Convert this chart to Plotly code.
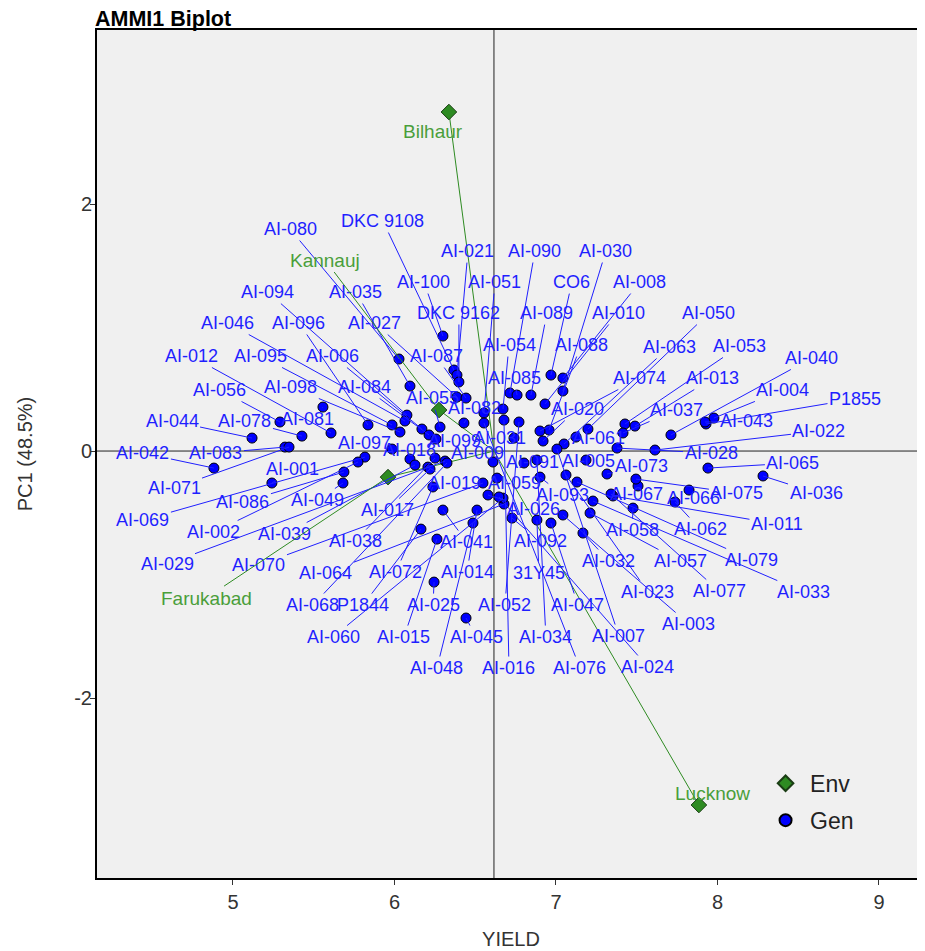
import plotly.graph_objects as go

# ---------------- data ----------------
gen_names = ["AI-080","DKC 9108","AI-100","AI-021","AI-090","AI-030","AI-051","CO6","AI-008","AI-094",
             "AI-035","DKC 9162","AI-089","AI-010","AI-050","AI-046","AI-096","AI-027","AI-054","AI-088",
             "AI-063","AI-053","AI-012","AI-095","AI-006","AI-087","AI-040","AI-085","AI-074","AI-013",
             "AI-056","AI-098","AI-084","AI-055","AI-004","P1855","AI-044","AI-078","AI-081","AI-082",
             "AI-020","AI-037","AI-043","AI-022","AI-097","AI-099","AI-031","AI-061","AI-042","AI-083",
             "AI-071","AI-018","AI-009","AI-091","AI-005","AI-028","AI-065","AI-001","AI-073","AI-086",
             "AI-049","AI-019","AI-059","AI-067","AI-066","AI-075","AI-036","AI-093","AI-069","AI-002",
             "AI-039","AI-017","AI-026","AI-058","AI-062","AI-011","AI-038","AI-041","AI-092","AI-029",
             "AI-070","AI-032","AI-057","AI-079","AI-064","AI-072","AI-014","31Y45","AI-023","AI-077",
             "AI-033","AI-068","P1844","AI-025","AI-052","AI-047","AI-003","AI-060","AI-015","AI-045",
             "AI-034","AI-007","AI-048","AI-016","AI-076","AI-024"]

gen_yield = [6.028,6.368,6.300,6.387,6.715,7.043,6.554,6.969,7.043,6.077,
             6.096,6.399,6.845,6.932,7.198,6.065,5.836,6.387,6.672,6.957,
             7.050,7.427,5.607,5.985,6.170,6.443,7.712,6.759,6.901,7.489,
             5.291,6.034,6.214,6.282,7.978,7.929,5.118,5.427,5.557,6.430,
             6.920,7.415,7.923,7.613,5.985,6.257,6.740,7.124,4.882,5.322,
             5.347,6.096,6.610,6.802,7.186,7.378,7.941,5.241,7.316,5.687,
             5.681,6.207,6.635,7.508,7.824,7.495,8.282,6.901,5.817,5.774,
             6.127,6.220,6.579,7.477,7.737,7.353,6.251,6.300,6.728,6.313,
             6.548,7.167,7.211,7.130,6.678,6.238,6.511,6.882,7.062,7.341,
             7.229,6.325,6.164,6.245,6.771,6.969,7.043,6.672,6.263,6.443,
             6.882,7.006,6.486,6.678,6.554,6.647]

gen_pc1 = [0.745,0.656,0.931,0.615,0.470,0.486,0.308,0.615,0.591,0.291,
           0.526,0.559,0.453,0.381,0.178,0.243,0.211,0.437,0.340,0.170,
           0.057,0.219,0.146,0.211,0.178,0.429,0.130,0.453,0.162,0.202,
           0.235,0.154,0.130,0.194,0.267,0.219,0.105,0.121,0.356,0.227,
           0.081,0.146,0.235,0.008,0.016,0.097,0.105,0.113,-0.138,0.032,
           0.032,-0.065,-0.089,-0.097,-0.073,0.024,-0.138,-0.259,-0.186,-0.170,
           -0.259,-0.130,-0.219,-0.283,-0.316,-0.227,-0.202,-0.211,-0.049,-0.089,
           -0.113,-0.146,-0.356,-0.462,-0.413,-0.364,-0.057,-0.478,-0.543,-0.081,
           -0.259,-0.664,-0.502,-0.251,-0.429,-0.291,-0.478,-0.559,-0.194,-0.348,
           -0.405,-0.097,-0.632,-1.061,0.235,-0.583,-0.518,-0.381,-0.713,-1.352,
           -0.073,0.016,-0.583,0.251,0.227,-0.372]

# label placement offsets (pixels, relative to the point)
label_dx = [-109,-71,-19,11,25,43,11,21,77,-139,
            -54,0,16,73,121,-177,-69,-82,6,32,
            105,115,-140,-132,-89,-30,141,-3,100,78,
            -60,-109,-65,-8,69,149,-80,-57,-15,11,
            34,53,41,164,-28,19,-14,22,-71,-69,
            -115,0,-15,8,2,94,85,21,34,-101,
            -25,27,17,-2,4,101,53,23,-222,-144,
            -130,-43,46,-1,25,164,-80,24,28,-278,
            -224,26,90,175,-178,-37,-10,2,82,108,
            211,-134,-58,-1,-14,27,126,-170,-33,10,
            9,62,-36,5,96,149]
label_dy = [-130,-149,-54,-124,-142,-140,-131,-93,-96,-123,
            -94,-69,-82,-91,-116,-98,-102,-74,-64,-85,
            -97,-78,-77,-69,-73,-42,-77,-17,-53,-48,
            -32,-45,-48,-29,-28,-25,-17,-15,12,-15,
            -32,-23,-1,-19,-6,2,0,1,-15,6,
            41,-9,-9,-1,1,5,-5,-14,-8,30,
            17,16,5,8,8,14,17,18,63,70,
            69,41,14,22,27,28,83,32,23,103,
            82,28,48,78,69,85,62,53,117,97,
            91,142,76,23,183,82,109,139,98,19,
            177,187,145,248,245,170]

env_names = ["Bilhaur", "Kannauj", "Farukabad", "Lucknow"]
env_yield = [6.337, 6.276, 5.960, 7.885]
env_pc1 = [2.745, 0.332, -0.211, -2.866]
env_dx = [-16, -114, -182, 14]
env_dy = [19, -150, 121, -12]
env_arrow = [False, True, True, False]

grand_mean = 6.616

y_ticks = [-2, 0, 2]
y_ticktext = ["-2", "0", "2"]
x_ticks = [5, 6, 7, 8, 9]

# ---------------- figure ----------------
GEN_COL = "#1f1fff"
ENV_COL = "#2e8b22"
ENV_TXT = "#4a9e3a"
AX_COL = "#333333"
FONT = "Liberation Sans, Arial, sans-serif"

fig = go.Figure()

# environment vectors from the origin
for ex, ey in zip(env_yield, env_pc1):
    fig.add_trace(go.Scatter(x=[grand_mean, ex], y=[0, ey], mode="lines",
                             line=dict(color=ENV_COL, width=1), showlegend=False,
                             hoverinfo="skip"))

fig.add_trace(go.Scatter(x=env_yield, y=env_pc1, mode="markers", name="Env",
                         legendgroup="env",
                         marker=dict(symbol="diamond", size=12, color=ENV_COL,
                                     line=dict(color="#1a3d14", width=1))))
fig.add_trace(go.Scatter(x=gen_yield, y=gen_pc1, mode="markers", name="Gen",
                         legendgroup="gen", text=gen_names,
                         marker=dict(symbol="circle", size=10, color="#0000ff",
                                     line=dict(color="black", width=1))))

annotations = []
for n, x, y, dx, dy in zip(gen_names, gen_yield, gen_pc1, label_dx, label_dy):
    annotations.append(dict(x=x, y=y, xref="x", yref="y", text=n, showarrow=True,
                            ax=dx, ay=dy, arrowhead=0, arrowwidth=1, arrowcolor=GEN_COL,
                            standoff=0, startstandoff=0,
                            font=dict(family=FONT, size=18, color=GEN_COL)))
for n, x, y, dx, dy, arr in zip(env_names, env_yield, env_pc1, env_dx, env_dy, env_arrow):
    if arr:
        annotations.append(dict(x=x, y=y, xref="x", yref="y", text=n, showarrow=True,
                                ax=dx, ay=dy, arrowhead=0, arrowwidth=1, arrowcolor=ENV_COL,
                                standoff=0, font=dict(family=FONT, size=19, color=ENV_TXT)))
    else:
        annotations.append(dict(x=x, y=y, xref="x", yref="y", text=n, showarrow=False,
                                xshift=dx, yshift=-dy,
                                font=dict(family=FONT, size=19, color=ENV_TXT)))

annotations.append(dict(x=0, y=1, xref="paper", yref="paper", xanchor="left", yanchor="middle",
                        xshift=-3, yshift=11, showarrow=False, borderpad=0,
                        text="<b>AMMI1 Biplot</b>",
                        font=dict(family=FONT, size=21.5, color="black")))

fig.update_layout(
    width=917, height=943,
    margin=dict(l=89, r=0, t=22, b=73, autoexpand=False),
    paper_bgcolor="white", plot_bgcolor="#f0f0f0",
    font=dict(family=FONT, size=18, color=AX_COL),
    annotations=annotations,
    showlegend=True,
    legend=dict(x=0.802, y=0.137, xanchor="left", yanchor="top",
                bgcolor="rgba(0,0,0,0)", font=dict(size=23, color="#222222"),
                itemsizing="constant", itemwidth=39,
                traceorder="grouped", tracegroupgap=4),
    shapes=[
        dict(type="line", xref="x", yref="paper", x0=grand_mean, x1=grand_mean, y0=0, y1=1,
             line=dict(color="#222222", width=1), layer="below"),
        dict(type="line", xref="paper", yref="y", x0=0, x1=1, y0=0, y1=0,
             line=dict(color="#222222", width=1), layer="below"),
    ],
)
fig.update_xaxes(range=[4.158, 9.285], tickvals=x_ticks, showgrid=False, zeroline=False,
                 automargin=False,
                 showline=True, linecolor="black", linewidth=2, mirror=True,
                 ticks="outside", ticklen=5, tickcolor=AX_COL,
                 tickfont=dict(size=20, color=AX_COL),
                 title=dict(text="YIELD", font=dict(size=20, color=AX_COL), standoff=20))
fig.update_yaxes(range=[-3.457, 3.409], tickvals=y_ticks, ticktext=y_ticktext,
                 showgrid=False, zeroline=False, automargin=False,
                 showline=True, linecolor="black", linewidth=2, mirror=True,
                 ticks="outside", ticklen=5, tickcolor=AX_COL, ticklabelstandoff=-6,
                 tickfont=dict(size=20, color=AX_COL),
                 title=dict(text="PC1 (48.5%)", font=dict(size=20, color=AX_COL), standoff=36))

fig.write_html("out.html")
